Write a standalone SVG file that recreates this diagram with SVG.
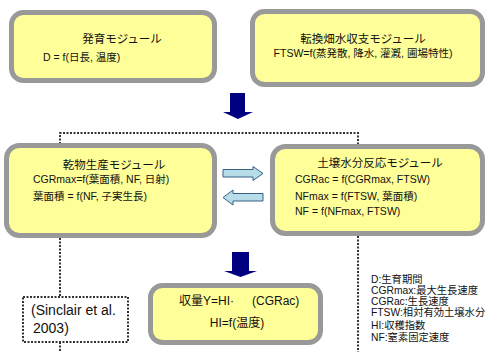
<svg xmlns="http://www.w3.org/2000/svg" width="486" height="352" viewBox="0 0 486 352">
<style>
.box{fill:#ffff99;stroke:#999999;stroke-width:5}
.t{font-family:"Liberation Sans","Noto Sans CJK JP",sans-serif;fill:#111}
.ttl{font-size:11.5px;text-anchor:middle}
.b{font-size:10.5px}
.lg{font-size:10.3px}
.dot{fill:none;stroke:#333;stroke-width:2;stroke-dasharray:2 1.5}
.nav{fill:#000080}
.lb{fill:#b7dde8;stroke:#3a5f86;stroke-width:1}
</style>
<rect width="486" height="352" fill="#ffffff"/>
<g id="connectors">
<path class="dot" d="M60,144 V133 H358 V145"/>
<path class="dot" d="M60,238 V297"/>
<path class="dot" d="M60,342 V352"/>
<path class="dot" d="M358,236 V352"/>
<polygon class="nav" points="230,93 245,93 245,112 253,112 238,119 223,112 230,112"/>
<polygon class="nav" points="232,252 249,252 249,271 257,271 240.5,277 224,271 232,271"/>
<polygon class="lb" points="223,169.5 253,169.5 253,166.5 263,173.5 253,180.5 253,177 223,177"/>
<polygon class="lb" points="263,193.5 233,193.5 233,190 223,197.5 233,205 233,201 263,201"/>
</g>
<g id="node-hatsuiku">
<rect class="box" x="11.5" y="12.5" width="203" height="68" rx="12"/>
<text class="t ttl" x="122" y="43">発育モジュール</text>
<text class="t b" x="43" y="61">D = f(日長, 温度)</text>
</g>
<g id="node-suishi">
<rect class="box" x="252.5" y="11.5" width="230" height="73" rx="12"/>
<text class="t ttl" x="363" y="43">転換畑水収支モジュール</text>
<text class="t b" x="363" y="57" text-anchor="middle">FTSW=f(蒸発散, 降水, 灌漑, 圃場特性)</text>
</g>
<g id="node-kanbutsu">
<rect class="box" x="6.5" y="145.5" width="208" height="90" rx="13"/>
<text class="t ttl" x="114" y="169">乾物生産モジュール</text>
<text class="t b" x="33" y="183">CGRmax=f(葉面積, NF, 日射)</text>
<text class="t b" x="33" y="200">葉面積 = f(NF, 子実生長)</text>
</g>
<g id="node-dojo">
<rect class="box" x="272.5" y="146.5" width="210" height="87" rx="13"/>
<text class="t ttl" x="380" y="167">土壌水分反応モジュール</text>
<text class="t b" x="295" y="183">CGRac = f(CGRmax, FTSW)</text>
<text class="t b" x="295" y="200">NFmax = f(FTSW, 葉面積)</text>
<text class="t b" x="295" y="215">NF = f(NFmax, FTSW)</text>
</g>
<g id="node-sinclair">
<rect class="dot" x="23" y="297" width="105" height="45"/>
<text class="t" x="31" y="315" font-size="14">(Sinclair et al.</text>
<text class="t" x="33" y="333" font-size="14">2003)</text>
</g>
<g id="node-shuryo">
<rect class="box" x="150.5" y="285.5" width="170" height="57" rx="12"/>
<text class="t" x="179" y="305" font-size="12">収量Y=HI·</text>
<text class="t" x="252" y="305" font-size="12">(CGRac)</text>
<text class="t" x="237" y="327" font-size="12" text-anchor="middle">HI=f(温度)</text>
</g>
<g id="legend">
<text class="t lg" x="371" y="282.7">D:生育期間</text>
<text class="t lg" x="371" y="293.5">CGRmax:最大生長速度</text>
<text class="t lg" x="371" y="304.5">CGRac:生長速度</text>
<text class="t lg" x="371" y="315.8">FTSW:相対有効土壌水分</text>
<text class="t lg" x="371" y="329">HI:収穫指数</text>
<text class="t lg" x="371" y="340.7">NF:窒素固定速度</text>
</g>
</svg>
